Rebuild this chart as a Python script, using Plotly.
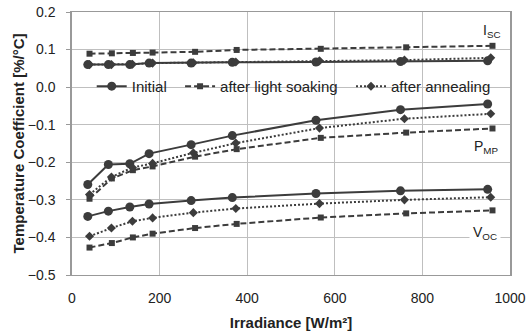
import plotly.graph_objects as go

x_initial = [36, 83, 132, 176, 272, 366, 557, 750, 949]
x_soak = [40, 91, 139, 184, 281, 376, 568, 763, 960]
x_anneal = [40, 90, 138, 184, 277, 374, 565, 759, 956]

isc_initial = [0.060, 0.060, 0.060, 0.064, 0.064, 0.066, 0.067, 0.068, 0.070]
isc_soak = [0.089, 0.090, 0.091, 0.092, 0.094, 0.099, 0.102, 0.106, 0.110]
isc_anneal = [0.060, 0.060, 0.061, 0.064, 0.065, 0.067, 0.070, 0.072, 0.078]

pmp_initial = [-0.259, -0.206, -0.204, -0.177, -0.153, -0.129, -0.088, -0.060, -0.045]
pmp_soak = [-0.297, -0.243, -0.221, -0.211, -0.185, -0.165, -0.135, -0.121, -0.110]
pmp_anneal = [-0.286, -0.239, -0.214, -0.203, -0.175, -0.149, -0.109, -0.084, -0.071]

voc_initial = [-0.344, -0.330, -0.319, -0.311, -0.302, -0.294, -0.283, -0.276, -0.272]
voc_soak = [-0.427, -0.415, -0.400, -0.390, -0.375, -0.364, -0.347, -0.336, -0.328]
voc_anneal = [-0.397, -0.375, -0.357, -0.348, -0.334, -0.323, -0.310, -0.300, -0.293]

series_names = ["Initial", "after light soaking", "after annealing"]
labels = ["I<sub>SC</sub>", "P<sub>MP</sub>", "V<sub>OC</sub>"]

C = "#3c3c3c"
FONT = "Liberation Sans, Arial"
styles = {
    "Initial": dict(dash="solid", symbol="circle", size=9),
    "after light soaking": dict(dash="6px,3px", symbol="square", size=6),
    "after annealing": dict(dash="2px,2px", symbol="diamond", size=7),
}

data = {
    "Initial": (x_initial, [isc_initial, pmp_initial, voc_initial]),
    "after light soaking": (x_soak, [isc_soak, pmp_soak, voc_soak]),
    "after annealing": (x_anneal, [isc_anneal, pmp_anneal, voc_anneal]),
}

PAD = "\u00a0\u00a0"

fig = go.Figure()
for name in series_names:
    xs, groups = data[name]
    st = styles[name]
    for i, ys in enumerate(groups):
        fig.add_trace(go.Scatter(
            x=xs, y=ys, mode="lines+markers", name=name + PAD,
            legendgroup=name, showlegend=(i == 0),
            line=dict(color=C, width=2, dash=st["dash"]),
            marker=dict(color=C, symbol=st["symbol"], size=st["size"]),
        ))

ann_pos = [(958, 0.150, False), (947, -0.160, False), (943, -0.389, True)]
for lab, (ax, ay, bg) in zip(labels, ann_pos):
    fig.add_annotation(x=ax, y=ay, text=lab, showarrow=False,
                       font=dict(family=FONT, size=14, color="#222"),
                       bgcolor="white" if bg else None, borderpad=3)

# white panel behind the legend (covers gridlines like the original)
fig.add_shape(type="rect", xref="paper", yref="paper",
              x0=(77 - 72) / 438, x1=(503 - 72) / 438,
              y0=(275 - 100) / 263, y1=(275 - 73) / 263,
              fillcolor="white", line=dict(width=0), layer="between")

fig.update_layout(
    width=527, height=334,
    margin=dict(l=72, r=17, t=12, b=59),
    paper_bgcolor="white", plot_bgcolor="white",
    font=dict(family=FONT, size=14, color="#222"),
    showlegend=True,
    legend=dict(orientation="h", x=0.045, y=0.717, xanchor="left", yanchor="middle",
                bgcolor="rgba(0,0,0,0)", borderwidth=0, font=dict(size=15),
                itemwidth=30, tracegroupgap=0),
    xaxis=dict(range=[0, 1000], tickvals=[0, 200, 400, 600, 800, 1000],
               showgrid=True, gridcolor="#bfbfbf", gridwidth=1,
               showline=True, linecolor="#999", linewidth=1, mirror=True,
               ticks="", zeroline=False, ticklabelstandoff=10, automargin=False,
               title=dict(text="<b>Irradiance [W/m²]</b>", font=dict(size=15), standoff=12)),
    yaxis=dict(range=[-0.5, 0.2], tickvals=[-0.5, -0.4, -0.3, -0.2, -0.1, 0.0, 0.1, 0.2],
               tickformat=".1f",
               showgrid=True, gridcolor="#bfbfbf", gridwidth=1,
               showline=True, linecolor="#999", linewidth=1.5, mirror=True,
               ticks="outside", ticklen=4, tickcolor="#999", zeroline=False,
               ticklabelstandoff=8, automargin=False,
               title=dict(text="<b>Temperature Coefficient [%/°C]</b>", font=dict(size=15), standoff=0)),
)

fig.write_html("out.html")
